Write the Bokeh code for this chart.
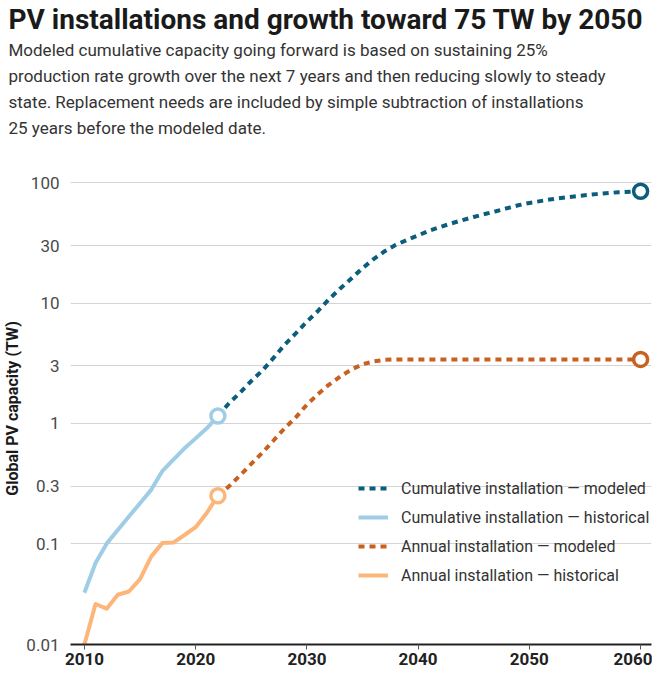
from bokeh.plotting import figure
from bokeh.models import (Title, FixedTicker, Legend, LegendItem, Range1d)
from bokeh.embed import file_html
from bokeh.resources import INLINE

# ---------------- data ----------------
hist_years = list(range(2010, 2023))
cum_hist = [0.039, 0.069, 0.10, 0.13, 0.168, 0.217, 0.28, 0.40, 0.50, 0.62, 0.75, 0.91, 1.15]
ann_hist = [0.0145, 0.0315, 0.0288, 0.0376, 0.040, 0.0507, 0.078, 0.101, 0.102, 0.118, 0.137, 0.18, 0.25]

model_years = list(range(2022, 2051)) + [2052, 2054, 2056, 2058, 2060]
cum_model = [1.15, 1.47, 1.8, 2.25, 2.75, 3.5, 4.5, 5.6, 7.0, 8.6, 10.8, 13.2, 16.0, 19.5,
             23.2, 27.0, 30.5, 33.5, 36.5, 40.0, 43.0, 46.0, 49.0, 52.0, 55.0, 58.0, 61.5,
             65.0, 68.0, 73.0, 77.0, 80.5, 83.5, 85.0]
ann_model = [0.25, 0.30, 0.37, 0.46, 0.57, 0.72, 0.91, 1.12, 1.43, 1.75, 2.1, 2.45, 2.8, 3.1,
             3.27, 3.37, 3.4, 3.4, 3.4, 3.4, 3.4, 3.4, 3.4, 3.4, 3.4, 3.4, 3.4,
             3.4, 3.4, 3.4, 3.4, 3.4, 3.4, 3.4]

y_axis_floor = 0.0145
y_ticks = [y_axis_floor, 0.1, 0.3, 1, 3, 10, 30, 100]
y_tick_labels = ["0.01", "0.1", "0.3", "1", "3", "10", "30", "100"]
x_ticks = [2010, 2020, 2030, 2040, 2050, 2060]

series_labels = ["Cumulative installation \u2014 modeled",
                 "Cumulative installation \u2014 historical",
                 "Annual installation \u2014 modeled",
                 "Annual installation \u2014 historical"]

title_text = "PV installations and growth toward 75 TW by 2050"
subtitle_lines = [
    "Modeled cumulative capacity going forward is based on sustaining 25%",
    "production rate growth over the next 7 years and then reducing slowly to steady",
    "state. Replacement needs are included by simple subtraction of installations",
    "25 years before the modeled date.",
]

# ---------------- styles ----------------
FONT = "Roboto"
C_TEAL = "#0b5d7c"
C_LBLUE = "#9fcde6"
C_ORANGE = "#c8601f"
C_LORANGE = "#fdb67a"

p = figure(width=652, height=667, y_axis_type="log",
           x_range=Range1d(2008.75, 2060.98), y_range=Range1d(y_axis_floor, 121.8),
           output_backend="svg", toolbar_location=None, title=None,
           min_border_left=59, min_border_right=1, min_border_top=0, min_border_bottom=0)
p.outline_line_color = None
p.background_fill_color = "white"
p.border_fill_color = "white"

# titles (first added = closest to plot)
p.add_layout(Title(text=" ", text_font_size="14px", text_font=FONT, standoff=15), "above")
for line in reversed(subtitle_lines):
    p.add_layout(Title(text=line, text_font_size="17px", text_font=FONT,
                       text_font_style="normal", text_color="#333333",
                       align="left", offset=-62, standoff=4), "above")
p.add_layout(Title(text=title_text, text_font_size="28px", text_font=FONT,
                   text_font_style="bold", text_color="#1a1a1a",
                   align="left", offset=-62, standoff=0), "above")

# grid
p.xgrid.grid_line_color = None
p.ygrid.ticker = FixedTicker(ticks=y_ticks[1:])
p.ygrid.grid_line_color = "#d4d4d4"
p.ygrid.grid_line_width = 1

# axes
p.xaxis.ticker = FixedTicker(ticks=x_ticks)
p.xaxis.axis_line_width = 2
p.xaxis.axis_line_color = "#222222"
p.xaxis.major_tick_line_color = "#555555"
p.xaxis.major_tick_out = 5
p.xaxis.major_tick_in = 0
p.xaxis.minor_tick_line_color = None
p.xaxis.major_label_text_font = FONT
p.xaxis.major_label_text_font_size = "17px"
p.xaxis.major_label_text_font_style = "bold"
p.xaxis.major_label_text_color = "#222222"
p.xaxis.major_label_standoff = 3

p.yaxis.ticker = FixedTicker(ticks=y_ticks)
p.yaxis.major_label_overrides = {t: l for t, l in zip(y_ticks, y_tick_labels)}
p.yaxis.axis_line_color = None
p.yaxis.major_tick_line_color = None
p.yaxis.minor_tick_line_color = None
p.yaxis.major_label_text_font = FONT
p.yaxis.major_label_text_font_size = "17px"
p.yaxis.major_label_text_color = "#4a4a4a"
p.yaxis.major_label_standoff = 5
p.yaxis.axis_label = "Global PV capacity (TW)"
p.yaxis.axis_label_text_font = FONT
p.yaxis.axis_label_text_font_size = "16px"
p.yaxis.axis_label_text_font_style = "bold"
p.yaxis.axis_label_text_color = "#1a1a1a"
p.yaxis.axis_label_standoff = 1

# lines
r_ch = p.line(hist_years, cum_hist, line_color=C_LBLUE, line_width=4, line_join="round")
r_ah = p.line(hist_years, ann_hist, line_color=C_LORANGE, line_width=4, line_join="round")
r_cm = p.line(model_years, cum_model, line_color=C_TEAL, line_width=4, line_dash="6 5")
r_am = p.line(model_years, ann_model, line_color=C_ORANGE, line_width=4, line_dash="6 5")

# circles
p.scatter([hist_years[-1]], [cum_hist[-1]], size=14, marker="circle", fill_color="white",
          line_color=C_LBLUE, line_width=3.5)
p.scatter([hist_years[-1]], [ann_hist[-1]], size=14, marker="circle", fill_color="white",
          line_color=C_LORANGE, line_width=3.5)
p.scatter([model_years[-1]], [cum_model[-1]], size=14, marker="circle", fill_color="white",
          line_color=C_TEAL, line_width=3.5)
p.scatter([model_years[-1]], [ann_model[-1]], size=14, marker="circle", fill_color="white",
          line_color=C_ORANGE, line_width=3.5)

legend = Legend(items=[LegendItem(label=series_labels[0], renderers=[r_cm]),
                       LegendItem(label=series_labels[1], renderers=[r_ch]),
                       LegendItem(label=series_labels[2], renderers=[r_am]),
                       LegendItem(label=series_labels[3], renderers=[r_ah])],
                location=(288, 58), padding=0, margin=0, spacing=7,
                glyph_width=30, glyph_height=22, label_standoff=13,
                label_text_font=FONT, label_text_font_size="16px",
                label_text_color="#333333", border_line_color=None,
                background_fill_alpha=0)
p.add_layout(legend, "center")

open("out.html", "w").write(file_html(p, INLINE))
